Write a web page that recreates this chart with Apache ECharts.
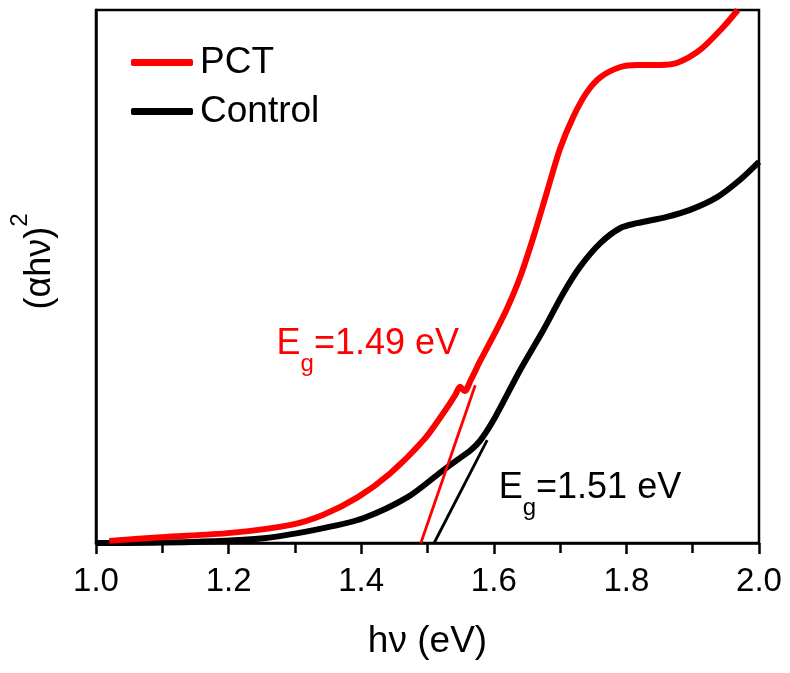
<!DOCTYPE html>
<html>
<head>
<meta charset="utf-8">
<script src="https://cdn.jsdelivr.net/npm/echarts@6/dist/echarts.min.js"></script>
<style>
html,body{margin:0;padding:0;background:#fff;}
#chart{width:790px;height:673px;}
</style>
</head>
<body>
<div id="chart"></div>
<script>
// ---- data ----
const pctX  = [1.02, 1.098, 1.203, 1.294, 1.343, 1.395, 1.444, 1.494, 1.524, 1.542, 1.549, 1.556, 1.565, 1.580, 1.600, 1.620, 1.640, 1.660, 1.680, 1.700, 1.720, 1.740, 1.761, 1.791, 1.816, 1.851, 1.877, 1.911, 1.946, 1.968];
const pctY  = [0.4, 1.1, 1.9, 3.4, 5.3, 8.6, 13.1, 19.3, 24.4, 27.8, 29.3, 28.5, 30.5, 34.3, 39.0, 44.0, 50.0, 57.5, 65.8, 74.0, 80.0, 84.5, 87.4, 89.3, 89.7, 89.7, 90.1, 92.5, 96.8, 100];
const ctrlX = [1.0, 1.143, 1.253, 1.343, 1.404, 1.470, 1.520, 1.545, 1.565, 1.580, 1.602, 1.640, 1.675, 1.705, 1.730, 1.761, 1.791, 1.816, 1.861, 1.896, 1.937, 1.971, 2.0];
const ctrlY = [0.0, 0.2, 0.9, 2.8, 4.7, 8.6, 13.3, 15.6, 17.4, 19.3, 23.6, 32.5, 40.0, 46.9, 51.8, 56.3, 59.1, 60.0, 61.2, 62.5, 64.9, 68.1, 71.5];
const pctFitX  = [1.49, 1.572];
const pctFitY  = [0, 29.6];
const ctrlFitX = [1.51, 1.590];
const ctrlFitY = [0, 19.3];
const seriesNames = ['PCT', 'Control'];
const pctLabel  = {x: 1.41, y: 37.3, text: '1.49 eV'};
const ctrlLabel = {x: 1.745, y: 10.3, text: '1.51 eV'};

const zip = (xs, ys) => xs.map((x, i) => [x, ys[i]]);
const FONT = 'Liberation Sans, Arial, sans-serif';

const chart = echarts.init(document.getElementById('chart'), null, {renderer: 'canvas'});

function egSeries(lbl, color) {
  return {
    name: 'label ' + lbl.text,
    type: 'scatter',
    data: [[lbl.x, lbl.y]],
    symbolSize: 2,
    itemStyle: {color: 'rgba(0,0,0,0)', opacity: 1},
    silent: true,
    z: 10,
    label: {
      show: true,
      position: 'inside',
      color: color,
      opacity: 1,
      formatter: '{e|E}{s|g}{e|=' + lbl.text + '}',
      rich: {
        e: {fontSize: 36, color: color, fontFamily: FONT},
        s: {fontSize: 24, color: color, fontFamily: FONT, verticalAlign: 'bottom', padding: [0, 0, -14, 0]}
      }
    }
  };
}

chart.setOption({
  animation: false,
  backgroundColor: '#fff',
  grid: {left: 95, right: 31, top: 10, bottom: 130, show: true, borderColor: '#000', borderWidth: 2.5, backgroundColor: 'transparent'},
  legend: {
    data: seriesNames,
    orient: 'vertical',
    left: 131,
    top: 44,
    itemWidth: 62,
    itemHeight: 7,
    itemGap: 12,
    icon: 'roundRect',
    padding: 0,
    textStyle: {fontSize: 37, fontFamily: FONT, color: '#000', padding: [0, 0, 0, 2]}
  },
  xAxis: {
    type: 'value',
    min: 1.0,
    max: 2.0,
    interval: 0.2,
    name: 'h\u03bd (eV)',
    nameLocation: 'middle',
    nameGap: 80,
    nameTextStyle: {fontSize: 37, fontFamily: FONT, color: '#000'},
    axisLine: {show: true, lineStyle: {color: '#000', width: 2.5}},
    axisTick: {show: true, inside: false, length: 11, lineStyle: {color: '#000', width: 2.5}},
    minorTick: {show: true, splitNumber: 2, length: 10, lineStyle: {color: '#000', width: 2.5}},
    axisLabel: {fontSize: 33, fontFamily: FONT, color: '#000', margin: 22, formatter: v => v.toFixed(1)},
    splitLine: {show: false}
  },
  yAxis: {
    type: 'value',
    min: 0,
    max: 100,
    name: '(\u03b1h\u03bd){sup|2}',
    nameLocation: 'middle',
    nameGap: 38,
    nameRotate: 90,
    nameTextStyle: {
      fontSize: 36, fontFamily: FONT, color: '#000',
      padding: [0, 0, 0, 30],
      rich: {sup: {fontSize: 24, fontFamily: FONT, color: '#000', verticalAlign: 'top', padding: [-14, 0, 0, 0]}}
    },
    axisLine: {show: true, lineStyle: {color: '#000', width: 2.5}},
    axisTick: {show: false},
    axisLabel: {show: false},
    splitLine: {show: false}
  },
  series: [
    {
      name: 'PCT', type: 'line', data: zip(pctX, pctY), showSymbol: false, symbol: 'none',
      smooth: 0.3, lineStyle: {color: '#ff0000', width: 6}, itemStyle: {color: '#ff0000'}, z: 3
    },
    {
      name: 'Control', type: 'line', data: zip(ctrlX, ctrlY), showSymbol: false, symbol: 'none',
      smooth: 0.3, lineStyle: {color: '#000', width: 6}, itemStyle: {color: '#000'}, z: 2
    },
    {
      name: 'PCT fit', type: 'line', data: zip(pctFitX, pctFitY), showSymbol: false, symbol: 'none',
      lineStyle: {color: '#ff0000', width: 2.8}, itemStyle: {color: '#ff0000'}, z: 4
    },
    {
      name: 'Control fit', type: 'line', data: zip(ctrlFitX, ctrlFitY), showSymbol: false, symbol: 'none',
      lineStyle: {color: '#000', width: 2.8}, itemStyle: {color: '#000'}, z: 4
    },
    egSeries(pctLabel, '#ff0000'),
    egSeries(ctrlLabel, '#000')
  ]
});
</script>
</body>
</html>
